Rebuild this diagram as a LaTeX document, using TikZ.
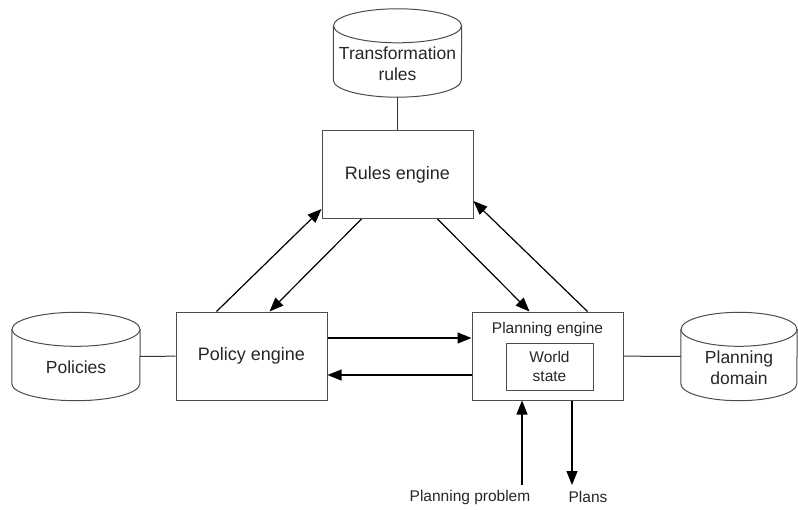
\documentclass[tikz,border=0pt]{standalone}
\usepackage{fontspec}
\setmainfont{Liberation Sans}
\usetikzlibrary{arrows.meta}

\tikzset{
  box/.style={draw=black!70, line width=1pt, text=black!85,
    minimum width=151pt, minimum height=88pt, font=\fontsize{18}{21}\selectfont},
  store/.style={minimum width=128pt, minimum height=88pt, inner sep=0pt},
  storeline/.style={draw=black!70, line width=1pt},
  storetext/.style={text=black!85, align=center, font=\fontsize{17.5}{21}\selectfont},
  small/.style={text=black!85, align=center, font=\fontsize{15.5}{19}\selectfont},
  flow/.style={-{Triangle[length=14pt,width=11pt]}, line width=1.2pt},
  link/.style={line width=1pt, draw=black!80}
}

\begin{document}
\begin{tikzpicture}[x=1pt,y=-1pt]
  \useasboundingbox (0,0) rectangle (798,509);

  % engines
  \node[box] (rules) at (397.5,174.5) {Rules engine};
  \node[box] (policy) at (251.5,356) {Policy engine};
  \node[box] (planning) at (547.5,356) {};
  \node[small] (plantitle) at (547.5,329) {Planning engine};
  \node[small, draw=black!70, line width=1pt, minimum width=87pt, minimum height=47pt] (world) at (549.5,366.5) {World\\state};

  % data stores (cylinders drawn round the named nodes)
  \node[store] (trans) at (397.5,53) {};
  \node[store] (policies) at (76,356.5) {};
  \node[store, minimum width=116pt] (domain) at (739,356.5) {};
  \foreach \s/\r in {trans/64,policies/64,domain/58} {
    \draw[storeline] ([yshift=-17pt]\s.north west) -- ([yshift=17pt]\s.south west)
      arc[start angle=180, end angle=360, x radius=\r pt, y radius=17pt]
      -- ([yshift=-17pt]\s.north east);
    \draw[storeline] ([yshift=-17pt]\s.north) ellipse[x radius=\r pt, y radius=17pt];
  }
  \node[storetext] (transtext) at ([yshift=-11pt]trans.center) {Transformation\\rules};
  \node[storetext] (policiestext) at ([yshift=-11pt]policies.center) {Policies};
  \node[storetext] (domaintext) at ([yshift=-11pt]domain.center) {Planning\\domain};

  \draw[link] (trans) -- (rules);
  \draw[link] (policies) -- (policy);
  \draw[link] (planning) -- (domain);

  % triangle of flows
  \draw[flow] ([xshift=41pt]policy.north west) -- ([yshift=10pt]rules.south west);
  \draw[flow] ([xshift=40pt]rules.south west) -- ([xshift=94pt]policy.north west);
  \draw[flow] ([xshift=116pt]rules.south west) -- ([xshift=58pt]planning.north west);
  \draw[flow] ([xshift=116pt]planning.north west) -- ([yshift=18pt]rules.south east);
  \draw[flow] ([yshift=18pt]policy.east) -- ([yshift=18pt]planning.west);
  \draw[flow] ([yshift=-19pt]planning.west) -- ([yshift=-19pt]policy.east);

  % problem in, plans out
  \node[small] (problem) at (470,497) {Planning problem};
  \node[small] (plans) at (588,497) {Plans};
  \coordinate (probin) at (522,485);
  \coordinate (plansout) at (572,485);
  \draw[flow] (probin) -- (probin |- planning.south);
  \draw[flow] (plansout |- planning.south) -- (plansout);
\end{tikzpicture}
\end{document}
